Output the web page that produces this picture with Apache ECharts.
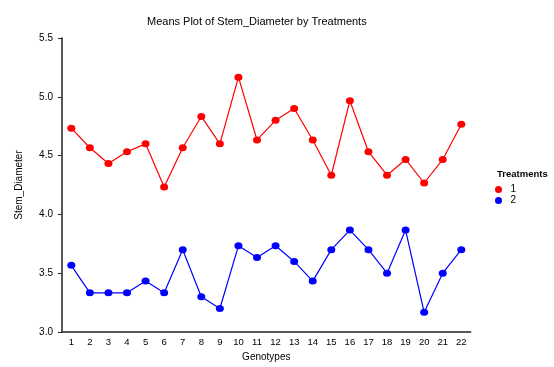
<!DOCTYPE html>
<html>
<head>
<meta charset="utf-8">
<script src="https://cdn.jsdelivr.net/npm/echarts@6/dist/echarts.min.js"></script>
<style>html,body{margin:0;padding:0;background:#fff}#c{width:554px;height:367px}</style>
</head>
<body>
<div id="c"></div>
<script>
var genotypes = ['1','2','3','4','5','6','7','8','9','10','11','12','13','14','15','16','17','18','19','20','21','22'];
var treatment1 = [4.733,4.567,4.433,4.533,4.600,4.233,4.567,4.833,4.600,5.167,4.633,4.800,4.900,4.633,4.333,4.967,4.533,4.333,4.467,4.267,4.467,4.767];
var treatment2 = [3.567,3.333,3.333,3.333,3.433,3.333,3.700,3.300,3.200,3.733,3.633,3.733,3.600,3.433,3.700,3.867,3.700,3.500,3.867,3.167,3.500,3.700];
var seriesNames = ['1','2'];
var yTicks = {min: 3.0, max: 5.5, interval: 0.5};

var font = 'Liberation Sans, Arial, sans-serif';
var chart = echarts.init(document.getElementById('c'), null, {renderer: 'canvas'});
chart.setOption({
  animation: false,
  backgroundColor: '#ffffff',
  title: [
    {text: 'Means Plot of Stem_Diameter by Treatments', left: 142, top: 11,
     textStyle: {fontFamily: font, fontSize: 11, fontWeight: 'normal', color: '#000'}},
    {text: 'Treatments', left: 497, top: 169, padding: 0,
     textStyle: {fontFamily: font, fontSize: 9.5, fontWeight: 'bold', color: '#000'}}
  ],
  legend: {
    orient: 'vertical', left: 495, top: 184, icon: 'circle', padding: 0,
    itemWidth: 8, itemHeight: 7, itemGap: 0,
    textStyle: {fontFamily: font, fontSize: 10, lineHeight: 11, color: '#000', padding: [0,0,0,3]},
    data: seriesNames
  },
  grid: {left: 62, right: 83.4, top: 38, bottom: 32, containLabel: false},
  xAxis: {
    type: 'category', data: genotypes, boundaryGap: true,
    name: 'Genotypes', nameLocation: 'middle', nameGap: 20,
    nameTextStyle: {fontFamily: font, fontSize: 10, color: '#000'},
    axisLine: {lineStyle: {color: '#222', width: 1.5}},
    axisTick: {alignWithLabel: true, length: 4, lineStyle: {color: '#222'}},
    axisLabel: {fontFamily: font, fontSize: 9.5, color: '#000', margin: 5, interval: 0},
    splitLine: {show: false}
  },
  yAxis: {
    type: 'value', min: yTicks.min, max: yTicks.max, interval: yTicks.interval,
    name: 'Stem_Diameter', nameLocation: 'middle', nameGap: 38, nameRotate: 90,
    nameTextStyle: {fontFamily: font, fontSize: 10, color: '#000'},
    axisLine: {show: true, lineStyle: {color: '#222', width: 1.5}},
    axisTick: {show: true, length: 4, lineStyle: {color: '#222'}},
    axisLabel: {fontFamily: font, fontSize: 10, color: '#000', margin: 9,
      formatter: function(v){return v.toFixed(1);}},
    splitLine: {show: false}
  },
  series: [
    {name: seriesNames[0], type: 'line', data: treatment1, symbol: 'circle', symbolSize: [8,7],
     itemStyle: {color: '#ff0000'}, lineStyle: {color: '#ff0000', width: 1.2}},
    {name: seriesNames[1], type: 'line', data: treatment2, symbol: 'circle', symbolSize: [8,7],
     itemStyle: {color: '#0000ff'}, lineStyle: {color: '#0000ff', width: 1.2}}
  ]
});
</script>
</body>
</html>
